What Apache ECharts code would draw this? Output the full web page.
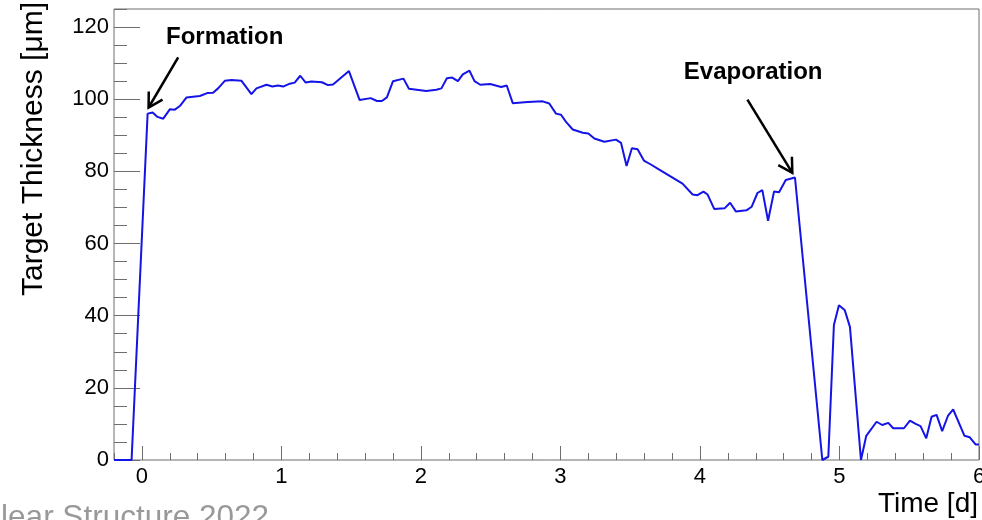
<!DOCTYPE html>
<html><head><meta charset="utf-8">
<script src="https://cdn.jsdelivr.net/npm/echarts@6/dist/echarts.min.js"></script>
<style>html,body{margin:0;padding:0;background:#fff}#c{width:982px;height:520px}</style>
</head><body><div id="c"></div>
<script>
// Time in days
const timeDays = [-0.2, -0.074, 0.041, 0.077, 0.112, 0.153, 0.20, 0.236, 0.272, 0.32, 0.367, 0.415, 0.468, 0.51, 0.546, 0.594, 0.642, 0.714, 0.785, 0.821, 0.893, 0.935, 0.976, 1.012, 1.06, 1.095, 1.135, 1.174, 1.215, 1.29, 1.334, 1.37, 1.484, 1.56, 1.64, 1.685, 1.72, 1.756, 1.80, 1.875, 1.914, 2.038, 2.11, 2.147, 2.186, 2.224, 2.265, 2.30, 2.348, 2.384, 2.425, 2.496, 2.575, 2.615, 2.658, 2.765, 2.873, 2.92, 2.968, 3.004, 3.04, 3.088, 3.16, 3.20, 3.243, 3.314, 3.398, 3.434, 3.474, 3.512, 3.553, 3.598, 3.648, 3.708, 3.875, 3.947, 3.982, 4.025, 4.054, 4.102, 4.178, 4.216, 4.257, 4.333, 4.371, 4.412, 4.447, 4.488, 4.531, 4.567, 4.615, 4.681, 4.877, 4.92, 4.96, 4.996, 5.037, 5.075, 5.154, 5.192, 5.266, 5.306, 5.35, 5.385, 5.462, 5.505, 5.546, 5.581, 5.622, 5.66, 5.696, 5.736, 5.777, 5.815, 5.896, 5.934, 5.975, 6.0];
// Target thickness in micrometres
const thicknessUm = [0, 0, 96.0, 96.3, 95.1, 94.6, 97.2, 97.1, 98.1, 100.5, 100.7, 100.9, 101.7, 101.8, 103.0, 105.1, 105.3, 105.1, 101.4, 103.0, 104.0, 103.5, 103.8, 103.5, 104.3, 104.6, 106.5, 104.6, 104.9, 104.7, 103.9, 104.1, 107.8, 99.8, 100.3, 99.5, 99.5, 100.5, 105.0, 105.7, 102.9, 102.3, 102.6, 103.0, 105.8, 106.0, 105.0, 106.9, 107.9, 105.0, 104.0, 104.2, 103.4, 103.8, 98.9, 99.2, 99.4, 98.8, 96.0, 95.7, 93.7, 91.6, 90.7, 90.5, 89.1, 88.2, 88.8, 87.9, 81.5, 86.4, 86.1, 83.0, 81.9, 80.5, 76.6, 73.6, 73.4, 74.4, 73.6, 69.6, 69.8, 71.3, 68.9, 69.2, 70.2, 74.0, 74.8, 66.3, 74.4, 74.2, 77.6, 78.3, 0, 0.9, 37.4, 42.9, 41.6, 36.9, 0, 6.7, 10.6, 9.7, 10.3, 8.8, 8.8, 10.9, 10.0, 9.4, 6.0, 12.0, 12.5, 8.0, 12.2, 14.0, 6.7, 6.3, 4.3, 4.3];

const xMajorTicks = [0, 1, 2, 3, 4, 5, 6];
const yMajorTicks = [0, 20, 40, 60, 80, 100, 120];

const annotationNames = ['Formation', 'Evaporation'];
const annotationTextAt = [[0.593, 117.0], [4.381, 107.3]];
const arrowFrom = [[0.26, 111.6], [4.34, 99.9]];
const arrowTo = [[0.048, 97.7], [4.662, 79.6]];

const FONT = "'Liberation Sans', Arial, Helvetica, sans-serif";
const frameColor = '#6e6e6e';

const chart = echarts.init(document.getElementById('c'), null, {renderer: 'canvas'});
const lineData = timeDays.map((t, i) => [t, thicknessUm[i]]);
const annData = annotationNames.map((n, i) => [arrowFrom[i][0], arrowFrom[i][1], arrowTo[i][0], arrowTo[i][1], annotationTextAt[i][0], annotationTextAt[i][1]]);

chart.setOption({
  animation: false,
  backgroundColor: '#fff',
  grid: {left: 114, top: 9, right: 3, bottom: 60, show: true, borderColor: frameColor, borderWidth: 1, containLabel: false, outerBoundsMode: 'none'},
  xAxis: [
    {type: 'value', min: -0.2, max: 6, position: 'bottom',
     axisLine: {show: false, onZero: false}, splitLine: {show: false},
     axisTick: {show: true, inside: true, length: 14, customValues: xMajorTicks, lineStyle: {color: frameColor, width: 1}},
     axisLabel: {show: true, customValues: xMajorTicks, margin: 6, color: '#000', fontSize: 22, fontFamily: FONT, hideOverlap: false}},
    {type: 'value', min: -0.2, max: 6, interval: 0.2, position: 'bottom',
     axisLine: {show: false, onZero: false}, splitLine: {show: false}, axisLabel: {show: false},
     axisTick: {show: true, inside: true, length: 7, lineStyle: {color: frameColor, width: 1}}}
  ],
  yAxis: [
    {type: 'value', min: 0, max: 125, position: 'left',
     axisLine: {show: false, onZero: false}, splitLine: {show: false},
     axisTick: {show: true, inside: true, length: 26, customValues: yMajorTicks, lineStyle: {color: frameColor, width: 1}},
     axisLabel: {show: true, customValues: yMajorTicks, margin: 5, color: '#000', fontSize: 22, fontFamily: FONT}},
    {type: 'value', min: 0, max: 125, interval: 5, position: 'left',
     axisLine: {show: false, onZero: false}, splitLine: {show: false}, axisLabel: {show: false},
     axisTick: {show: true, inside: true, length: 13, lineStyle: {color: frameColor, width: 1}}}
  ],
  graphic: [
    {type: 'text', x: 978, y: 504, style: {text: 'Time [d]', fill: '#000', fontSize: 28, fontFamily: FONT, align: 'right', verticalAlign: 'middle'}},
    {type: 'text', x: 34, y: 2, rotation: Math.PI / 2, style: {text: 'Target Thickness [μm]', fill: '#000', fontSize: 30, fontFamily: FONT, align: 'right', verticalAlign: 'middle'}},
    {type: 'text', x: 269, y: 518, style: {text: 'Nuclear Structure 2022', fill: '#999', fontSize: 31.5, fontFamily: FONT, align: 'right', verticalAlign: 'middle'}}
  ],
  series: [
    {type: 'line', xAxisIndex: 0, yAxisIndex: 0, data: lineData, showSymbol: false, symbol: 'none', clip: true,
     lineStyle: {color: '#1414e6', width: 2}, itemStyle: {color: '#1414e6'}, silent: true},
    {type: 'custom', xAxisIndex: 0, yAxisIndex: 0, clip: false, silent: true, data: annData,
     renderItem: function (params, api) {
       const from = api.coord([api.value(0), api.value(1)]);
       const to = api.coord([api.value(2), api.value(3)]);
       const tp = api.coord([api.value(4), api.value(5)]);
       const ang = Math.atan2(from[1] - to[1], from[0] - to[0]);
       const L = 16, a = Math.PI / 6;
       const h1 = [to[0] + L * Math.cos(ang + a), to[1] + L * Math.sin(ang + a)];
       const h2 = [to[0] + L * Math.cos(ang - a), to[1] + L * Math.sin(ang - a)];
       return {type: 'group', children: [
         {type: 'line', shape: {x1: from[0], y1: from[1], x2: to[0], y2: to[1]}, style: {stroke: '#000', lineWidth: 2.5}},
         {type: 'polyline', shape: {points: [h1, to, h2]}, style: {stroke: '#000', lineWidth: 2.5, fill: null}},
         {type: 'text', x: tp[0], y: tp[1], style: {text: annotationNames[params.dataIndex], fill: '#000', fontSize: 24, fontWeight: 'bold', fontFamily: FONT, align: 'center', verticalAlign: 'middle'}}
       ]};
     }}
  ]
});
</script>
</body></html>
